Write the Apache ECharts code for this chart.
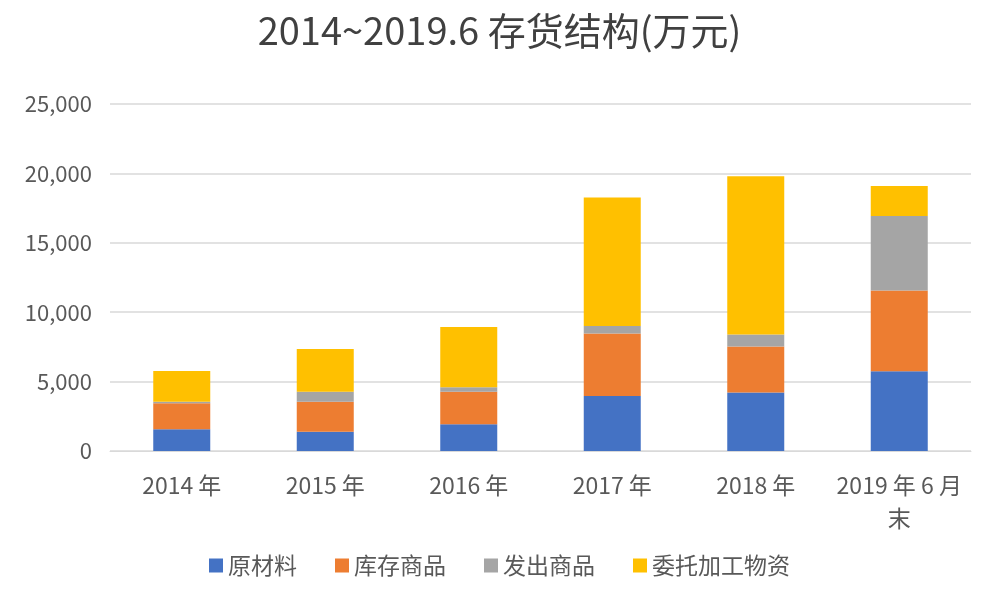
<!DOCTYPE html>
<html>
<head>
<meta charset="utf-8">
<script src="https://cdn.jsdelivr.net/npm/echarts@6/dist/echarts.min.js"></script>
<style>
  html, body { margin: 0; padding: 0; background: #fff; }
  #chart { width: 999px; height: 599px; }
</style>
</head>
<body>
<div id="chart"></div>
<script>
// inventory structure, 10k yuan
const categories = ['2014 年', '2015 年', '2016 年', '2017 年', '2018 年', '2019 年 6 月\n末']
const rawMaterials = [1560, 1390, 1920, 3960, 4210, 5740]
const goodsInStock = [1880, 2160, 2350, 4500, 3310, 5820]
const goodsShipped = [100, 720, 320, 550, 870, 5370]
const consignedProcessing = [2230, 3080, 4340, 9250, 11400, 2160]

const seriesNames = ['原材料', '库存商品', '发出商品', '委托加工物资']
const colors = ['#4472C4', '#ED7D31', '#A5A5A5', '#FFC000']
const font = '"Noto Sans CJK SC", "Noto Sans", sans-serif'

const chart = echarts.init(document.getElementById('chart'))

const series = [rawMaterials, goodsInStock, goodsShipped, consignedProcessing].map((data, i) => ({
  name: seriesNames[i],
  type: 'bar',
  stack: 'total',
  data,
  barWidth: 57,
  itemStyle: { color: colors[i] },
}))

chart.setOption({
  animation: false,
  title: {
    text: '2014~2019.6 存货结构(万元)',
    left: 'center',
    top: 7,
    textStyle: { fontFamily: font, fontSize: 38, fontWeight: 'normal', color: '#404040' },
  },
  legend: {
    data: seriesNames,
    bottom: 17,
    left: 'center',
    itemWidth: 14,
    itemHeight: 14,
    itemGap: 38,
    icon: 'rect',
    textStyle: { fontFamily: font, fontSize: 23, color: '#595959' },
  },
  grid: { left: 110, right: 28, top: 104, bottom: 148 },
  xAxis: {
    type: 'category',
    data: categories,
    axisLine: { lineStyle: { color: '#d9d9d9' } },
    axisTick: { show: false },
    axisLabel: { interval: 0, fontFamily: font, fontSize: 23, color: '#595959', margin: 18, lineHeight: 33 },
  },
  yAxis: {
    type: 'value',
    min: 0,
    max: 25000,
    interval: 5000,
    axisLine: { show: false },
    axisTick: { show: false },
    splitLine: { lineStyle: { color: '#d9d9d9', width: 1.5 } },
    axisLabel: {
      fontFamily: font, fontSize: 22, color: '#595959', margin: 18,
      formatter: v => v.toLocaleString('en-US'),
    },
  },
  series,
})
</script>
</body>
</html>
